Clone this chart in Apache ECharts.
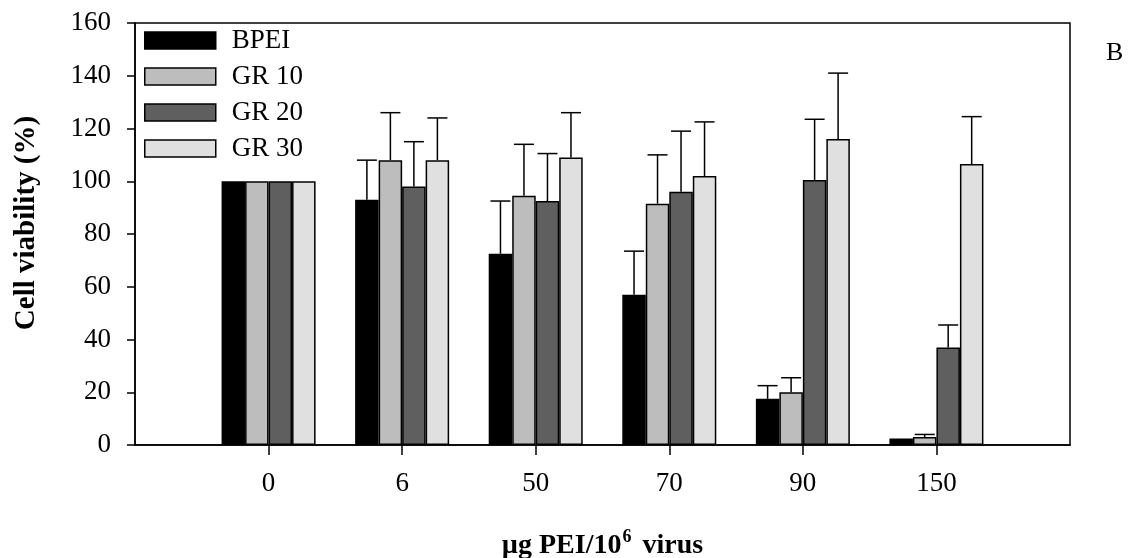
<!DOCTYPE html>
<html>
<head>
<meta charset="utf-8">
<script src="https://cdn.jsdelivr.net/npm/echarts@6/dist/echarts.min.js"></script>
<style>
  html, body { margin: 0; padding: 0; background: #fff; }
  #chart { width: 1133px; height: 558px; }
</style>
</head>
<body>
<div id="chart"></div>
<script>
  // x categories (µg PEI / 10^6 virus)
  const categories = ['0', '6', '50', '70', '90', '150']
  const seriesNames = ['BPEI', 'GR 10', 'GR 20', 'GR 30']
  // mean cell viability (%)
  const bpei = [100, 93, 72.5, 57, 17.5, 2.5]
  const gr10 = [100, 108, 94.5, 91.5, 20, 3]
  const gr20 = [100, 98, 92.5, 96, 100.5, 37]
  const gr30 = [100, 108, 109, 102, 116, 106.5]
  // standard deviations (upper error bars only)
  const bpeiSd = [0, 15, 20, 16.5, 5, 0]
  const gr10Sd = [0, 18, 19.5, 18.5, 5.5, 1]
  const gr20Sd = [0, 17, 18, 23, 23, 8.5]
  const gr30Sd = [0, 16, 17, 20.5, 25, 18]
  const yTicks = { min: 0, max: 160, interval: 20 }

  const font = "'Liberation Serif', 'Times New Roman', serif"
  const colors = ['#000000', '#bdbdbd', '#5f5f5f', '#e0e0e0']
  const means = [bpei, gr10, gr20, gr30]
  const sds = [bpeiSd, gr10Sd, gr20Sd, gr30Sd]
  const barW = 23.5

  // padded axis so the groups sit on the inner ticks
  const axisCats = [''].concat(categories, [''])

  const barSeries = means.map((vals, s) => ({
    name: seriesNames[s],
    type: 'bar',
    barWidth: barW,
    barGap: '0%',
    itemStyle: { color: colors[s], borderColor: '#000', borderWidth: 1.5 },
    data: vals.map((v, i) => [i + 1, v])
  }))

  // upper error bars drawn over each bar
  const errSeries = means.map((vals, s) => ({
    name: seriesNames[s] + ' err',
    type: 'custom',
    z: 3,
    data: vals.map((v, i) => [i + 1, v, v + sds[s][i]]),
    renderItem: (params, api) => {
      const idx = api.value(0)
      const top = api.coord([idx, api.value(1)])
      const hi = api.coord([idx, api.value(2)])
      const x = top[0] + (s - 1.5) * barW
      if (hi[1] >= top[1] - 0.5) return null
      const st = { stroke: '#000', lineWidth: 1.5 }
      return {
        type: 'group',
        children: [
          { type: 'line', shape: { x1: x, y1: top[1], x2: x, y2: hi[1] }, style: st },
          { type: 'line', shape: { x1: x - 10, y1: hi[1], x2: x + 10, y2: hi[1] }, style: st }
        ]
      }
    }
  }))

  const option = {
    animation: false,
    backgroundColor: '#fff',
    textStyle: { fontFamily: font, color: '#000' },
    grid: {
      left: 135, right: 63, top: 23, bottom: 113,
      outerBoundsMode: 'none',
      show: true, borderColor: '#000', borderWidth: 1.5
    },
    legend: {
      data: seriesNames,
      orient: 'vertical',
      left: 139,
      top: 22,
      itemWidth: 71,
      itemHeight: 17,
      itemGap: 9,
      icon: 'rect',
      itemStyle: { borderColor: '#000', borderWidth: 1.5 },
      textStyle: { fontFamily: font, fontSize: 27, color: '#000', padding: [0, 0, 0, 11] }
    },
    graphic: [{
      type: 'text',
      left: 1106,
      top: 40,
      style: { text: 'B', font: '26px ' + font, fill: '#000' }
    }],
    xAxis: {
      type: 'category',
      data: axisCats,
      boundaryGap: false,
      axisLine: { lineStyle: { color: '#000', width: 1.5 } },
      axisTick: {
        length: 10,
        lineStyle: { color: '#000', width: 1.5 },
        interval: (i) => i > 0 && i < axisCats.length - 1
      },
      axisLabel: {
        interval: 0,
        margin: 25,
        fontSize: 27,
        fontFamily: font,
        color: '#000'
      },
      splitLine: { show: false },
      name: '{a|\u00b5g PEI/10}{s|6}{a| virus}',
      nameLocation: 'middle',
      nameGap: 83,
      nameTextStyle: {
        rich: {
          a: { fontFamily: font, fontSize: 28, fontWeight: 'bold', color: '#000', lineHeight: 32, verticalAlign: 'bottom' },
          s: { fontFamily: font, fontSize: 18, fontWeight: 'bold', color: '#000', lineHeight: 32, verticalAlign: 'top', padding: [0, 4, 0, 1] }
        }
      }
    },
    yAxis: {
      type: 'value',
      min: yTicks.min,
      max: yTicks.max,
      interval: yTicks.interval,
      axisLine: { show: true, lineStyle: { color: '#000', width: 1.5 } },
      axisTick: { show: true, length: 8, lineStyle: { color: '#000', width: 1.5 } },
      axisLabel: { margin: 24, fontSize: 27, fontFamily: font, color: '#000' },
      splitLine: { show: false },
      name: 'Cell viability (%)',
      nameLocation: 'middle',
      nameGap: 94,
      nameTextStyle: { fontFamily: font, fontSize: 29, fontWeight: 'bold', color: '#000', padding: [0, 0, 0, 22] }
    },
    series: barSeries.concat(errSeries)
  }

  const chart = echarts.init(document.getElementById('chart'), null, { renderer: 'canvas' })
  chart.setOption(option)
</script>
</body>
</html>
